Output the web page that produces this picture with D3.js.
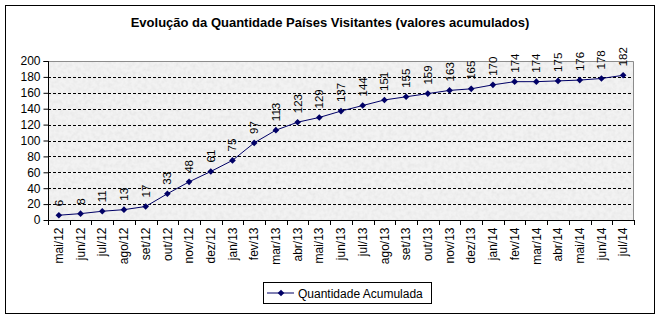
<!DOCTYPE html>
<html><head><meta charset="utf-8">
<script src="https://cdn.jsdelivr.net/npm/d3@7"></script>
<style>body{margin:0;background:#fff}svg{display:block}text{font-family:Arial,"Liberation Sans",sans-serif}</style>
</head><body><svg id="c" width="661" height="326"></svg>
<script>
const title = "Evolução da Quantidade Países Visitantes (valores acumulados)";
const categories = ["mai/12","jun/12","jul/12","ago/12","set/12","out/12","nov/12","dez/12","jan/13","fev/13","mar/13","abr/13","mai/13","jun/13","jul/13","ago/13","set/13","out/13","nov/13","dez/13","jan/14","fev/14","mar/14","abr/14","mai/14","jun/14","jul/14"];
const values = [6,8,11,13,17,33,48,61,75,97,113,123,129,137,144,151,155,159,163,165,170,174,174,175,176,178,182];
const yTicks = [0,20,40,60,80,100,120,140,160,180,200];
const seriesName = "Quantidade Acumulada";

const svg = d3.select("#c");
const L = 48, R = 634, T = 61, B = 220;
const navy = "#000066";

// outer border
svg.append("rect").attr("x",5.5).attr("y",5.5).attr("width",649).attr("height",308)
  .attr("fill","#fff").attr("stroke","#000").attr("stroke-width",1);

// title
svg.append("text").attr("x",330).attr("y",27).attr("text-anchor","middle")
  .attr("font-size",13).attr("font-weight","bold").text(title);

const x = d3.scaleBand().domain(categories).range([L,R]).padding(0);
const y = d3.scaleLinear().domain([0,200]).range([B,T]);

// plot background with texture
const defs = svg.append("defs");
const f = defs.append("filter").attr("id","tex").attr("x",0).attr("y",0).attr("width",1).attr("height",1);
f.append("feTurbulence").attr("type","fractalNoise").attr("baseFrequency",0.25).attr("numOctaves",3).attr("seed",3).attr("result","n");
f.append("feColorMatrix").attr("in","n").attr("type","matrix")
  .attr("values","0 0 0 0 0.78  0 0 0 0 0.78  0 0 0 0 0.78  0 0 0 -1.6 1.0").attr("result","g");
f.append("feFlood").attr("flood-color","#f2f2f2").attr("result","bg");
f.append("feComposite").attr("in","g").attr("in2","bg").attr("operator","over");
svg.append("rect").attr("x",L).attr("y",T).attr("width",R-L).attr("height",B-T)
  .attr("fill","#ececec").attr("filter","url(#tex)");

// gridlines
svg.append("g").selectAll("line").data(yTicks.filter(d=>d>0 && d<200)).join("line")
  .attr("x1",L).attr("x2",R).attr("y1",d=>Math.round(y(d))+0.5).attr("y2",d=>Math.round(y(d))+0.5)
  .attr("stroke","#000").attr("stroke-dasharray","3,2").attr("stroke-width",1);

// plot border top/right gray
svg.append("path").attr("d",`M${L},${T+0.5}H${R-0.5}V${B}`).attr("fill","none").attr("stroke","#8c8c8c");

// y axis
const yAxis = d3.axisLeft(y).tickValues(yTicks).tickSize(5).tickPadding(3);
const gy = svg.append("g").attr("transform",`translate(${L+0.5},0)`).call(yAxis);
gy.selectAll("text").attr("font-size",12).attr("fill","#000").attr("font-family","Arial, 'Liberation Sans', sans-serif");
gy.selectAll("line,path").attr("stroke","#000");
gy.select(".domain").attr("d",`M-5,${T+0.5}H0V${B}`);

// x axis
const xAxis = d3.axisBottom(x).tickSize(0).tickPadding(0);
const gx = svg.append("g").attr("transform",`translate(0,${B+0.5})`).call(xAxis);
gx.select(".domain").attr("d",`M${L},0H${R}`).attr("stroke","#000");
gx.selectAll(".tick text").attr("font-size",12).attr("fill","#000")
  .attr("font-family","Arial, 'Liberation Sans', sans-serif")
  .attr("transform","rotate(-90)").attr("text-anchor","end").attr("dy","0.35em")
  .attr("x",-7).attr("y",0);
// tick marks between categories
svg.append("g").selectAll("line").data(d3.range(categories.length+1)).join("line")
  .attr("x1",i=>Math.round(L+i*x.step())+0.5).attr("x2",i=>Math.round(L+i*x.step())+0.5)
  .attr("y1",B).attr("y2",B+5).attr("stroke","#000");

// line
const cx = d => x(d)+x.bandwidth()/2;
svg.append("path").datum(values)
  .attr("d",d3.line().x((d,i)=>cx(categories[i])).y(d=>y(d)))
  .attr("fill","none").attr("stroke",navy).attr("stroke-width",1);

// markers
const diamond = d3.symbol().type(d3.symbolDiamond2).size(28);
svg.append("g").selectAll("path").data(values).join("path")
  .attr("d",diamond).attr("transform",(d,i)=>`translate(${cx(categories[i])},${y(d)})`)
  .attr("fill",navy);

// data labels
svg.append("g").selectAll("text").data(values).join("text")
  .attr("transform",(d,i)=>`translate(${cx(categories[i])+4},${y(d)-9}) rotate(-90)`)
  .attr("font-size",11.5).attr("fill","#000").text(d=>d);

// legend
const lg = svg.append("g");
lg.append("rect").attr("x",263.5).attr("y",282.5).attr("width",168).attr("height",21)
  .attr("fill","#fff").attr("stroke","#000");
lg.append("line").attr("x1",267).attr("x2",294).attr("y1",293).attr("y2",293).attr("stroke",navy);
lg.append("path").attr("d",diamond).attr("transform","translate(281,293)").attr("fill",navy);
lg.append("text").attr("x",298).attr("y",297.5).attr("font-size",12).text(seriesName);
</script></body></html>
